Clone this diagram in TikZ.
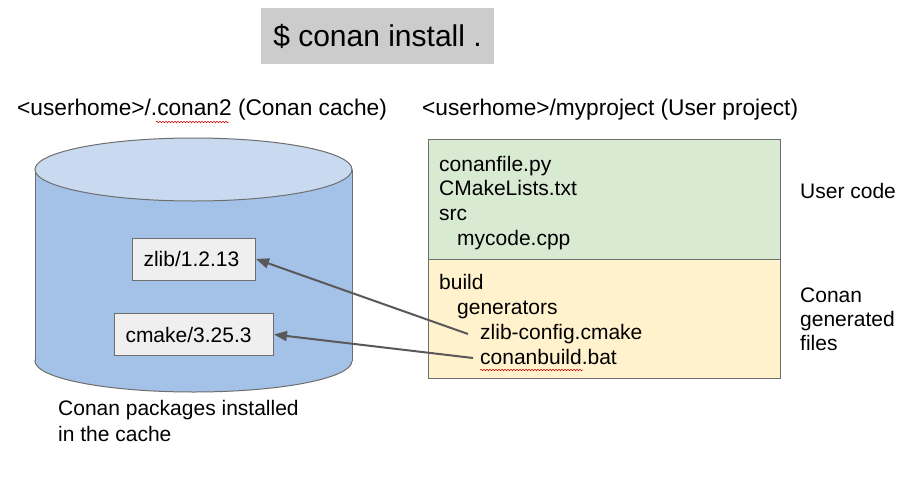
\documentclass[tikz,border=0pt]{standalone}
\usepackage{fontspec}
\setmainfont{Liberation Sans}
\usetikzlibrary{arrows.meta,decorations.pathmorphing}
\definecolor{titlegray}{HTML}{CCCCCC}
\definecolor{cylbody}{HTML}{A4C2E8}
\definecolor{cyltop}{HTML}{C9DAF0}
\definecolor{pkgfill}{HTML}{EFEFEF}
\definecolor{edgegray}{HTML}{6E6E6E}
\definecolor{arrowgray}{HTML}{595959}
\definecolor{usergreen}{HTML}{D9EAD3}
\definecolor{genyellow}{HTML}{FFF2CC}
\begin{document}
\begin{tikzpicture}[x=1pt,y=-1pt,
  every node/.style={font=\fontsize{21}{25}\selectfont, text=black},
  txt/.style={anchor=base west, inner sep=0pt},
  head/.style={txt, font=\fontsize{22.7}{27}\selectfont},
  pkgbox/.style={draw=edgegray, line width=1pt, fill=pkgfill, anchor=west,
    inner xsep=11pt, inner ysep=0pt, minimum height=42pt, align=left},
  areabox/.style={draw=edgegray, line width=1pt, anchor=north west,
    inner sep=0pt, minimum width=352pt},
  cylline/.style={draw=edgegray, line width=1pt},
  arr/.style={draw=arrowgray, line width=2pt, -{Triangle[length=13pt,width=10pt]}},
  squiggle/.style={draw=red!80!black, line width=0.5pt,
    decorate, decoration={snake, amplitude=0.8pt, segment length=3pt}}]
\useasboundingbox (0,0) rectangle (921,479);
\fill[white] (0,0) rectangle (921,479);

% title
\node[fill=titlegray, minimum width=233pt, minimum height=56pt, inner sep=0pt,
  anchor=north west] (titlebox) at (261,8) {};
\node[anchor=base, inner sep=0pt, font=\fontsize{30}{34}\selectfont] (title) at (377.5,46) {\$ conan install .};

% headings
\node[head] (cachehead) at (17,115) {<userhome>/.conan2 (Conan cache)};
\node[head] (projhead) at (422,115) {<userhome>/myproject (User project)};
\draw[squiggle] (156,122) -- (229,122);

% cylinder
\draw[cylline, fill=cylbody] (193.5,361) ellipse [x radius=158.5pt, y radius=31pt];
\fill[cylbody] (35,170) rectangle (352,361);
\draw[cylline] (35,170) -- (35,361) (352,170) -- (352,361);
\draw[cylline, fill=cyltop] (193.5,169.5) ellipse [x radius=158.5pt, y radius=31.5pt];

% packages
\node[pkgbox, text width=101pt] (zlib) at (132,259) {zlib/1.2.13};
\node[pkgbox, text width=137pt] (cmake) at (114,334.5) {cmake/3.25.3};

% caption
\node[txt] (cap1) at (58,415) {Conan packages installed};
\node[txt] (cap2) at (58,441) {in the cache};

% project areas
\node[areabox, fill=usergreen, minimum height=120pt] (userarea) at (428,139) {};
\node[areabox, fill=genyellow, minimum height=119pt] (genarea) at (428,259) {};

\node[txt] (f1) at (439,171) {conanfile.py};
\node[txt] (f2) at (439,195.5) {CMakeLists.txt};
\node[txt] (f3) at (439,220) {src};
\node[txt] (f4) at (457,245) {mycode.cpp};

\node[txt] (g1) at (439,289) {build};
\node[txt] (g2) at (457,314) {generators};
\node[txt] (g3) at (480,339) {zlib-config.cmake};
\node[txt] (g4) at (480,364) {conanbuild.bat};
\draw[squiggle] (480,370) -- (583,370);

% side labels
\node[txt] (usercode) at (800,198) {User code};
\node[txt] (gen1) at (800,302) {Conan};
\node[txt] (gen2) at (800,326) {generated};
\node[txt] (gen3) at (800,350) {files};

% arrows
\coordinate (zsrc) at (468,334);
\coordinate (csrc) at (473,358);
\draw[arr] (zsrc) -- (zlib.east);
\draw[arr] (csrc) -- (cmake.east);
\end{tikzpicture}
\end{document}
